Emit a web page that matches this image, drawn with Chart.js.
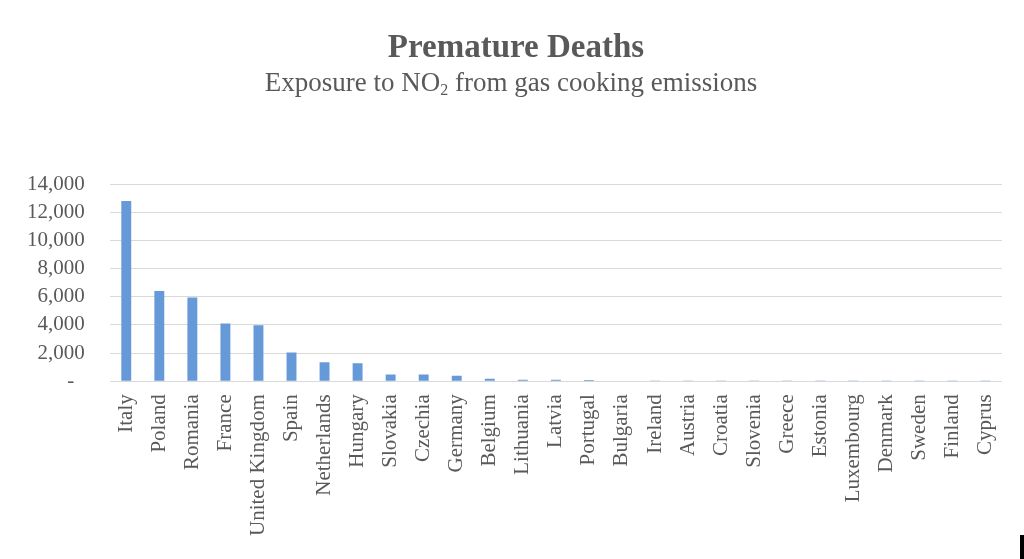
<!DOCTYPE html>
<html>
<head>
<meta charset="utf-8">
<script src="https://cdn.jsdelivr.net/npm/chart.js@4/dist/chart.umd.min.js"></script>
<style>
  html, body { margin: 0; padding: 0; background: #fff; }
  #wrap { position: relative; width: 1024px; height: 559px; }
  #mark { position: absolute; left: 1020px; top: 535px; width: 4px; height: 24px; background: #000; }
</style>
</head>
<body>
<div id="wrap">
  <canvas id="c" width="1024" height="559"></canvas>
  <div id="mark"></div>
</div>
<script>
const categories = ["Italy","Poland","Romania","France","United Kingdom","Spain","Netherlands","Hungary","Slovakia","Czechia","Germany","Belgium","Lithuania","Latvia","Portugal","Bulgaria","Ireland","Austria","Croatia","Slovenia","Greece","Estonia","Luxembourg","Denmark","Sweden","Finland","Cyprus"];
const deaths = [12800,6400,5950,4100,3980,2050,1350,1280,480,480,390,180,110,100,90,30,25,20,15,12,10,8,6,5,3,2,1];
const yTicks = [0,2000,4000,6000,8000,10000,12000,14000];

const titleText = 'Premature Deaths';
const subtitleParts = ['Exposure to NO', '2', ' from gas cooking emissions'];

const SERIF = '"Liberation Serif", "Times New Roman", serif';

const titlesPlugin = {
  id: 'titlesSub',
  afterDraw(chart) {
    const ctx = chart.ctx;
    ctx.save();
    ctx.fillStyle = '#595959';
    ctx.textBaseline = 'alphabetic';
    // main title
    ctx.textAlign = 'center';
    ctx.font = 'bold 33px ' + SERIF;
    ctx.fillText(titleText, 516, 57);
    // subtitle with subscript
    ctx.textAlign = 'left';
    const f = '27px ' + SERIF;
    const fs = '16px ' + SERIF;
    const [a, b, c] = subtitleParts;
    ctx.font = f; const wa = ctx.measureText(a).width; const wc = ctx.measureText(c).width;
    ctx.font = fs; const wb = ctx.measureText(b).width;
    let x = 511 - (wa + wb + wc) / 2;
    const y = 91;
    ctx.font = f; ctx.fillText(a, x, y); x += wa;
    ctx.font = fs; ctx.fillText(b, x, y + 4); x += wb;
    ctx.font = f; ctx.fillText(c, x, y);
    ctx.restore();
  }
};

new Chart(document.getElementById('c'), {
  type: 'bar',
  data: {
    labels: categories,
    datasets: [{
      data: deaths,
      backgroundColor: '#6699d8',
      barPercentage: 0.6,
      categoryPercentage: 0.5
    }]
  },
  options: {
    responsive: false,
    animation: false,
    layout: { padding: { left: 2, right: 22, top: 184, bottom: 10 } },
    plugins: {
      legend: { display: false },
      tooltip: { enabled: false },
      title: { display: false }
    },
    scales: {
      x: {
        grid: { display: false, drawTicks: false },
        border: { display: false },
        afterFit(scale) { scale.paddingLeft = 0; scale.paddingRight = 0; },
        ticks: {
          color: '#595959',
          font: { family: SERIF, size: 21 },
          minRotation: 90, maxRotation: 90,
          autoSkip: false,
          padding: 13
        }
      },
      y: {
        min: 0, max: 14000,
        afterBuildTicks(axis) { axis.ticks = yTicks.map(v => ({ value: v })); },
        grid: { color: '#d9d9d9', lineWidth: 1, drawTicks: false },
        border: { display: false },
        ticks: {
          color: '#595959',
          font: { family: SERIF, size: 21 },
          padding: 25,
          autoSkip: false,
          callback: v => v === 0 ? '-  ' : v.toLocaleString('en-US')
        }
      }
    }
  },
  plugins: [titlesPlugin]
});
</script>
</body>
</html>
